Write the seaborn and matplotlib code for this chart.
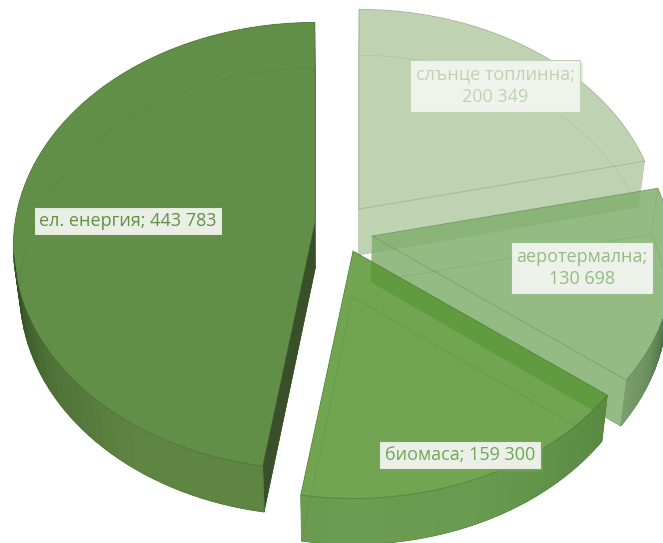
import numpy as np
import seaborn as sns
import matplotlib
matplotlib.use("Agg")
import matplotlib.pyplot as plt
import matplotlib.patheffects as pe
from matplotlib.colors import to_rgb
from matplotlib.path import Path
from matplotlib.patches import PathPatch, Polygon

names = ["слънце топлинна", "аеротермална", "биомаса", "ел. енергия"]
values = [200349, 130698, 159300, 443783]
separators = ["\n", "\n", " ", " "]

# look of the slices
face_colors = ["#B4CCA6", "#82B06E", "#589634", "#628F47"]
text_colors = ["#BFD3B3", "#95BC84", "#71A652", "#628F47"]
face_alpha = [0.85, 0.85, 0.85, 1.0]
wall_shades = [
    None,
    ["#7A9F6D", "#6B8F5F", "#4F6E45", "#3A5530"],
    ["#6B9C52", "#689A4F", "#5A8A42"],
    ["#5F8543", "#5F8543", "#4F7238", "#2F4A22"],
]
side_wall = [None, None, None, "#384F2A"]

# pixel layout of the tilted, exploded pie
W, H = 663, 543
apex = [(359, 209), (372, 236), (353, 251), (315, 222)]
label_pos = [(495, 86), (582, 268), (460, 455), (128, 221)]
RX, RY, K = 300, 221, 0.107
DEPTH, SHRINK, MID_X = 46, 0.98, 340


def project(theta, c):
    u, v = np.cos(np.radians(theta)), np.sin(np.radians(theta))
    w = 1 + K * v
    return c[0] + RX * u / w, c[1] - RY * v / w


def lower(x, y):
    return MID_X + (np.asarray(x) - MID_X) * SHRINK, np.asarray(y) + DEPTH


def ring(x, y):
    # same winding for all parts, so a compound path fills as their union
    pts = np.column_stack([x, y])
    a = np.sum(pts[:, 0] * np.roll(pts[:, 1], -1) - np.roll(pts[:, 0], -1) * pts[:, 1])
    return pts if a > 0 else pts[::-1]


def to_path(polys):
    return Path.make_compound_path(*[Path(np.vstack([p, p[:1]]), closed=True) for p in polys])


sns.set_theme(style="white")
plt.rcParams["font.family"] = ["Open Sans", "DejaVu Sans"]

fig, ax = plt.subplots(figsize=(W / 100, H / 100), dpi=100)
fig.subplots_adjust(0, 0, 1, 1)

wedges, _ = ax.pie(values, startangle=90, counterclock=False)
angles = [(w.theta1, w.theta2) for w in wedges]
for w in wedges:
    w.remove()
ax.set_aspect("auto")
ax.set_xlim(0, W)
ax.set_ylim(H, 0)
ax.axis("off")

for i, (t1, t2) in enumerate(angles):
    c = apex[i]
    th = np.linspace(t1, t2, 90)
    ax_, ay_ = project(th, c)
    tx = np.r_[c[0], ax_]
    ty = np.r_[c[1], ay_]
    bx, by = lower(tx, ty)

    polys = [ring(tx, ty), ring(bx, by)]
    for j in range(len(tx)):
        k = (j + 1) % len(tx)
        polys.append(ring([tx[j], tx[k], bx[k], bx[j]], [ty[j], ty[k], by[k], by[j]]))
    ax.add_patch(PathPatch(to_path(polys), fc=face_colors[i], ec="none", alpha=face_alpha[i], zorder=i + 1))

    # flat side next to the gap, the lower end of the arc
    if side_wall[i]:
        ax.add_patch(Polygon([(tx[0], ty[0]), (tx[-1], ty[-1]), (bx[-1], by[-1]), (bx[0], by[0])],
                             fc=side_wall[i], ec="none", zorder=i + 1.1))

    # rounded outer wall, front part only
    if wall_shades[i]:
        front = np.where(np.sin(np.radians(th)) < -K)[0]
        pal = sns.blend_palette(wall_shades[i], n_colors=len(front))
        # the dark end is where the wall turns away from the viewer
        order = np.argsort(np.abs(np.sin(np.radians(th[front]))))[::-1]
        for rank, f in enumerate(front[order]):
            if f + 1 >= len(th):
                continue
            q = [(ax_[f], ay_[f]), (ax_[f + 1], ay_[f + 1])]
            lx, ly = lower(ax_[[f + 1, f]], ay_[[f + 1, f]])
            ax.add_patch(Polygon(q + list(zip(lx, ly)), fc=pal[rank], ec=pal[rank], lw=0.5, zorder=i + 1.1))

    edge = tuple(0.72 * x for x in to_rgb(face_colors[i]))
    ax.plot(np.r_[tx, tx[0]], np.r_[ty, ty[0]], color=edge, lw=0.7, alpha=0.4, zorder=i + 1.2)
    ax.plot(np.r_[bx, bx[0]], np.r_[by, by[0]], color=edge, lw=0.6, alpha=0.2, zorder=i + 1.2)
    ax.plot([tx[-1], bx[-1]], [ty[-1], by[-1]], color=edge, lw=0.6, alpha=0.2, zorder=i + 1.2)

for name, val, sep, pos, col in zip(names, values, separators, label_pos, text_colors):
    label = f"{name};{sep}{val:,}".replace(",", " ")
    t = ax.text(pos[0], pos[1], label, color=col, fontsize=13, ha="center", va="center",
                linespacing=1.35, zorder=10,
                bbox=dict(boxstyle="square,pad=0.3", fc="#F2F5F0", ec=col, lw=0.8, alpha=0.95))
    t.get_bbox_patch().set_path_effects([
        pe.SimplePatchShadow(offset=(2, -2), shadow_rgbFace=col, alpha=0.45),
        pe.Normal(),
    ])

fig.savefig("out.png", dpi=100)
